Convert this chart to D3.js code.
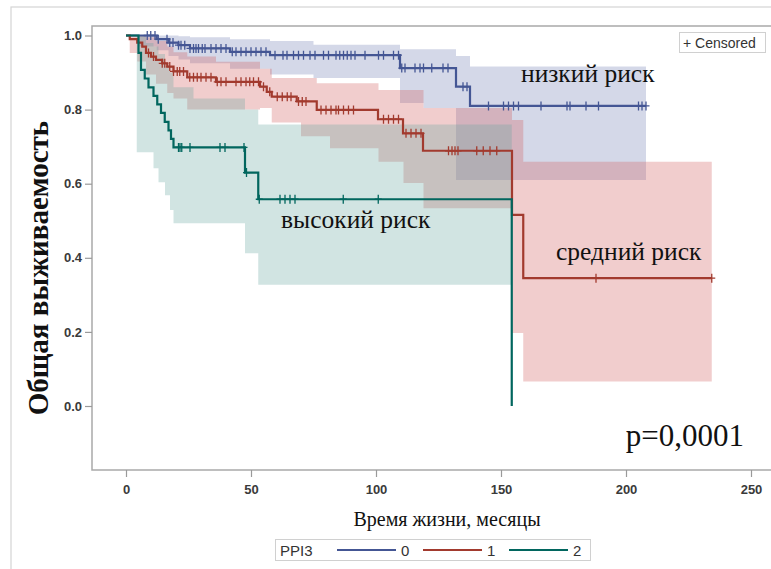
<!DOCTYPE html>
<html>
<head>
<meta charset="utf-8">
<script src="https://cdn.jsdelivr.net/npm/d3@7"></script>
<style>
  body { margin: 0; background: #fff; }
  svg { display: block; }
</style>
</head>
<body>
<svg id="chart" width="771" height="569"></svg>
<script>
// Kaplan–Meier survival by PPI3 group (time in months)
const groupNames = ["0", "1", "2"];
const riskLabels = ["низкий риск", "средний риск", "высокий риск"];

// step points [time, survival]
const kmLow  = [[0,1],[12.3,0.99],[17,0.981],[21,0.974],[25.6,0.965],[41.6,0.956],[57.6,0.947],[109.6,0.912],[132,0.862],[137.6,0.81]];
const kmMid  = [[0,1],[1.5,0.99],[4.5,0.981],[6.5,0.97],[8,0.953],[10,0.943],[12,0.934],[14.5,0.925],[16.5,0.916],[19,0.903],[24.5,0.887],[36,0.875],[53.6,0.862],[56.3,0.848],[58.3,0.835],[68.3,0.822],[76.3,0.799],[100.8,0.774],[110.8,0.736],[118.8,0.689],[154.4,0.516],[158.9,0.345]];
const kmHigh = [[0,1],[5,0.953],[6,0.907],[7.5,0.884],[9,0.86],[11,0.837],[12.5,0.814],[14,0.791],[15.5,0.767],[17,0.744],[18,0.721],[19,0.698],[47.6,0.63],[52.9,0.558],[154.3,0]];
const lastTime = [208, 234.3, 154.3];

// censoring times
const censorLow  = [8.5,9.9,11.6,12.9,16.4,17.5,18.8,21,22,23.5,25.6,27,28,29,30.5,31.6,34,36,38,40,42.5,44,46,48,50,52,54,56,59.6,62.8,64.4,67,69,71,73.6,75.6,79,81,84,85.5,87,88.5,90,91.6,95.6,101,103,107,109,110.3,111.6,115.6,117.6,119,122.3,126.8,128.8,134.8,136.4,145,151,153,155,157,166,176.4,177.6,184,189,205,206.4,208];
const censorMid  = [9,11,14.5,15.5,17.5,19,20.5,21.5,23,25.5,27,28.5,30,32,34,36.5,38,40,44,46,48,49.5,51,53,55,57.5,60.5,62.5,64.5,66,69,70.5,72,78,80,82,84,85,87,89,91,103,105,107,109,112,114,116,118,129,130.4,131.6,132.8,140.3,142.9,145.6,148.3,188,234.3];
const censorHigh = [21,21.6,22.3,25.6,37.6,39.6,47.2,48.2,53.3,61.6,63.6,65.6,67.6,86.9,100.9];

// confidence bands [time, lower, upper]
const bandLow  = [[0,1,1],[5,0.97,1],[12.3,0.96,1],[17,0.945,1],[21,0.935,0.998],[25.6,0.925,0.995],[41.6,0.91,0.99],[57.6,0.895,0.985],[75,0.885,0.975],[109.6,0.818,0.963],[119,0.804,0.963],[132,0.61,0.945],[137.6,0.61,0.916]];
const bandMid  = [[0,1,1],[1.5,0.953,1],[4.5,0.93,1],[8,0.895,0.995],[12,0.87,0.985],[16.5,0.845,0.97],[19,0.83,0.955],[24.5,0.8,0.943],[36,0.8,0.929],[53.6,0.804,0.91],[58.3,0.765,0.885],[70,0.728,0.885],[76.3,0.728,0.871],[81.6,0.696,0.871],[101,0.659,0.853],[111,0.602,0.853],[119,0.534,0.804],[154.4,0.197,0.772],[158.9,0.066,0.659]];
const bandHigh = [[0,1,1],[4.3,0.685,1],[8,0.685,0.98],[11,0.642,0.97],[13,0.604,0.95],[15.6,0.569,0.92],[17.6,0.529,0.9],[19,0.493,0.86],[27,0.493,0.83],[47.6,0.412,0.8],[52.9,0.327,0.76]];

const xTicks = [0, 50, 100, 150, 200, 250];
const yTicks = [0, 0.2, 0.4, 0.6, 0.8, 1.0];
const pValue = "p=0,0001";

const lineColors = ["#445694", "#A23A2E", "#01665E"];
const bandColors = ["#6F7EB3", "#D05B5B", "#66A5A0"];
const serif = "'Liberation Serif', 'Times New Roman', serif";
const sans = "'Liberation Sans', Arial, sans-serif";

const svg = d3.select("#chart");
const x = d3.scaleLinear().domain([0, 250]).range([126, 751]);
const y = d3.scaleLinear().domain([0, 1]).range([406, 35.5]);

// outer border
svg.append("rect").attr("x", 11).attr("y", 7).attr("width", 800).attr("height", 620)
  .attr("fill", "none").attr("stroke", "#d4d4d4").attr("stroke-width", 1.2);

const kms = [kmLow, kmMid, kmHigh];
const censors = [censorLow, censorMid, censorHigh];
const bands = [bandLow, bandMid, bandHigh];

// confidence bands
const area = d3.area().curve(d3.curveStepAfter)
  .x(d => x(d[0])).y0(d => y(d[1])).y1(d => y(d[2]));
bands.forEach((b, i) => {
  const last = b[b.length - 1];
  const pts = b.concat([[lastTime[i], last[1], last[2]]]);
  svg.append("path").attr("d", area(pts))
    .attr("fill", bandColors[i]).attr("fill-opacity", 0.3).attr("stroke", "none");
});

// plot frame
svg.append("rect").attr("x", 92).attr("y", 26).attr("width", 720).attr("height", 444)
  .attr("fill", "none").attr("stroke", "#a9a9a9").attr("stroke-width", 1.5);

// axes
const xAxis = svg.append("g").attr("transform", "translate(0,470)")
  .call(d3.axisBottom(x).tickValues(xTicks).tickSize(7).tickPadding(8));
const yAxis = svg.append("g").attr("transform", "translate(92,0)")
  .call(d3.axisLeft(y).tickValues(yTicks).tickFormat(d3.format(".1f")).tickSize(7).tickPadding(3));
[xAxis, yAxis].forEach(g => {
  g.select(".domain").remove();
  g.selectAll(".tick line").attr("stroke", "#9a9a9a").attr("stroke-width", 1.2);
  g.selectAll(".tick text").attr("fill", "#3a3a3a")
    .style("font-family", sans).style("font-size", "13px").style("font-weight", "bold");
});

// survival curves
const line = d3.line().curve(d3.curveStepAfter).x(d => x(d[0])).y(d => y(d[1]));
kms.forEach((km, i) => {
  const pts = km.concat([[lastTime[i], km[km.length - 1][1]]]);
  svg.append("path").attr("d", line(pts))
    .attr("fill", "none").attr("stroke", lineColors[i]).attr("stroke-width", 2.2);
});

// censor marks
function survAt(km, t) {
  const i = d3.bisectRight(km.map(d => d[0]), t) - 1;
  return km[Math.max(i, 0)][1];
}
censors.forEach((c, i) => {
  svg.append("g").selectAll("path").data(c).join("path")
    .attr("transform", t => `translate(${x(t)},${y(survAt(kms[i], t))})`)
    .attr("d", "M-3.5,0H3.5M0,-4.5V4.5")
    .attr("stroke", lineColors[i]).attr("stroke-width", 1.3).attr("fill", "none");
});

// curve labels
const labelPos = [[521, 82], [556, 260], [281, 228]];
riskLabels.forEach((t, i) => {
  svg.append("text").attr("x", labelPos[i][0]).attr("y", labelPos[i][1])
    .attr("fill", "#111").style("font-family", serif).style("font-size", "25.5px").text(t);
});

svg.append("text").attr("x", 744).attr("y", 446).attr("text-anchor", "end")
  .attr("fill", "#111").style("font-family", serif).style("font-size", "31px").text(pValue);

// axis titles
svg.append("text").attr("x", 447).attr("y", 526).attr("text-anchor", "middle")
  .attr("fill", "#111").style("font-family", serif).style("font-size", "20px")
  .text("Время жизни, месяцы");
svg.append("text").attr("transform", "translate(48,268) rotate(-90)").attr("text-anchor", "middle")
  .attr("fill", "#111").style("font-family", serif).style("font-size", "29px").style("font-weight", "bold")
  .text("Общая выживаемость");

// censored key
svg.append("rect").attr("x", 679.5).attr("y", 32.5).attr("width", 86).attr("height", 20)
  .attr("fill", "#fff").attr("stroke", "#d0d0d0");
svg.append("text").attr("x", 683).attr("y", 47.5).attr("fill", "#333")
  .style("font-family", sans).style("font-size", "14px").text("+ Censored");

// group legend
const lg = svg.append("g");
lg.append("rect").attr("x", 275.5).attr("y", 539.5).attr("width", 315).attr("height", 21)
  .attr("fill", "#fff").attr("stroke", "#d0d0d0");
lg.append("text").attr("x", 280).attr("y", 556).attr("fill", "#333")
  .style("font-family", sans).style("font-size", "15px").text("PPI3");
const keyX = [337, 423, 509];
groupNames.forEach((g, i) => {
  lg.append("line").attr("x1", keyX[i]).attr("x2", keyX[i] + 59).attr("y1", 550).attr("y2", 550)
    .attr("stroke", lineColors[i]).attr("stroke-width", 2.2);
  lg.append("text").attr("x", keyX[i] + 64).attr("y", 556).attr("fill", "#333")
    .style("font-family", sans).style("font-size", "15px").text(g);
});
</script>
</body>
</html>
